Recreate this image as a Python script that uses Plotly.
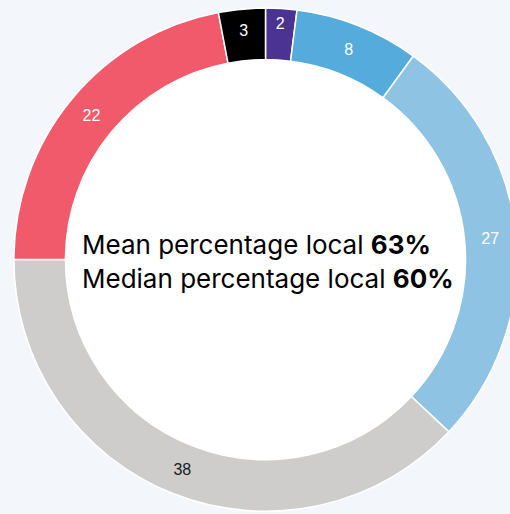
import plotly.graph_objects as go

labels = ["2", "8", "27", "38", "22", "3"]
values = [2, 8, 27, 38, 22, 3]
colors = ["#4b3491", "#55acdc", "#8ec3e3", "#cfcdcb", "#f15a6b", "#000000"]
text_colors = ["#ffffff", "#ffffff", "#ffffff", "#1a1a1a", "#ffffff", "#ffffff"]

W, H = 520, 514
cx, cy, R = 265.5, 259.6, 251.6
hole = 0.795

fig = go.Figure(go.Pie(
    labels=labels,
    values=values,
    sort=False,
    direction="clockwise",
    rotation=0,
    hole=hole,
    marker=dict(colors=colors, line=dict(color="#ffffff", width=1.5)),
    textinfo="value",
    textposition="inside",
    insidetextorientation="horizontal",
    textfont=dict(size=16, color=text_colors, family="Liberation Sans, Arial"),
    showlegend=False,
    hoverinfo="skip",
    domain=dict(x=[(cx - R) / W, (cx + R) / W],
                y=[(H - cy - R) / H, (H - cy + R) / H]),
))

r_in = R * hole
fig.add_shape(type="circle", xref="paper", yref="paper", layer="below",
              x0=(cx - r_in) / W, x1=(cx + r_in) / W,
              y0=(H - cy - r_in) / H, y1=(H - cy + r_in) / H,
              fillcolor="#ffffff", line=dict(width=0))

fig.add_annotation(
    x=268 / W, y=(H - 261.5) / H, xref="paper", yref="paper",
    text="Mean percentage local <b>63%</b><br>Median percentage local <b>60%</b>",
    showarrow=False, align="left",
    font=dict(size=26, color="#000000", family="Inter"),
)

fig.update_layout(
    width=W, height=H,
    margin=dict(l=0, r=0, t=0, b=0),
    paper_bgcolor="#f3f6fb",
    plot_bgcolor="#f3f6fb",
)

fig.write_html("out.html", config={"displayModeBar": False},
               post_script="document.body.style.margin='0';document.body.style.overflow='hidden';")
